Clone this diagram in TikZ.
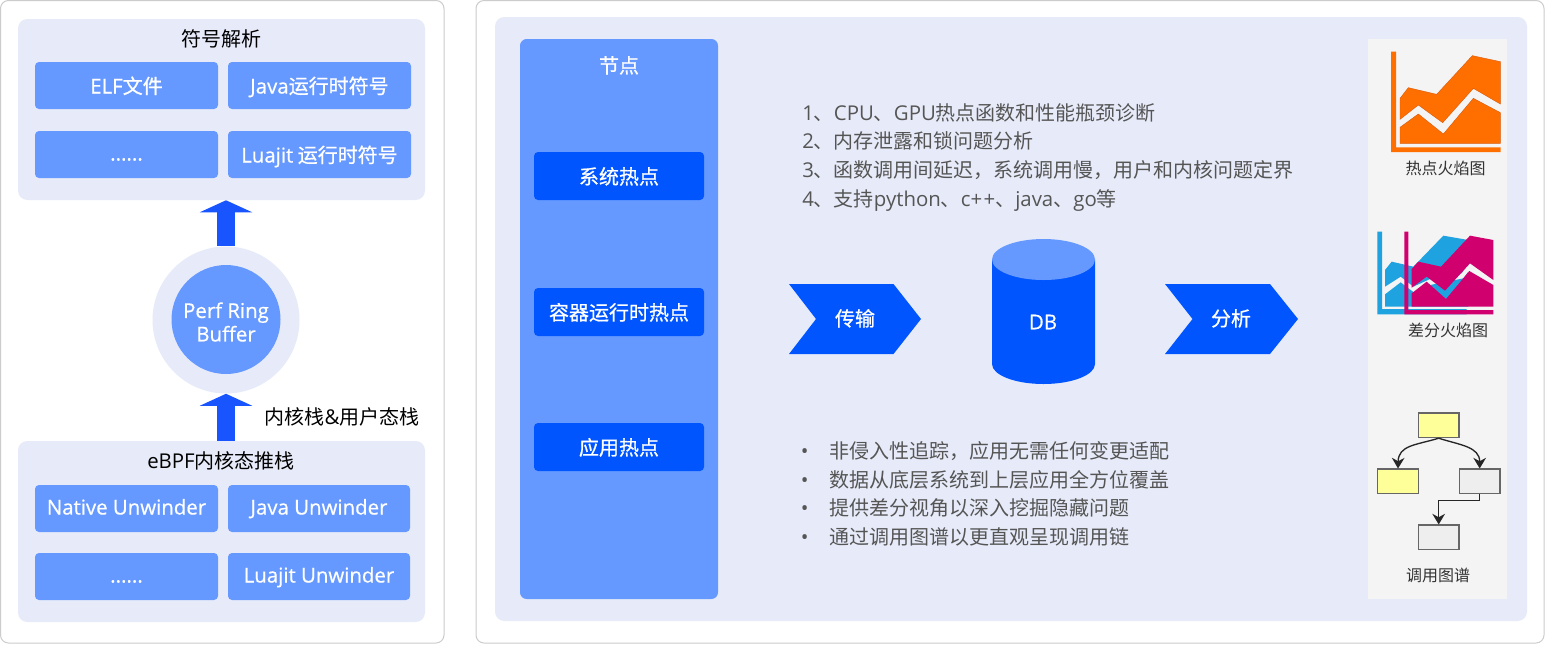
\documentclass[tikz,border=0pt]{standalone}
\usepackage{fontspec}
\setmainfont{Noto Sans CJK SC}
\newfontfamily\latf[Scale=1.02]{Open Sans}
\newfontfamily\medf[FakeBold=0.8]{Noto Sans CJK SC}
\newfontfamily\medlatf[FakeBold=0.6,Scale=1.02]{Open Sans}
\newcommand{\la}[1]{{\latf #1}}
\newcommand{\lm}[1]{{\medlatf #1}}
\newcommand{\upl}[1]{\raisebox{1.5pt}{\lm{#1}}}
\usetikzlibrary{arrows.meta}
\definecolor{pale}{HTML}{E7EBF9}
\definecolor{midblue}{HTML}{6699FF}
\definecolor{deepblue}{HTML}{0055FF}
\definecolor{arrowblue}{HTML}{1855FF}
\definecolor{greytext}{HTML}{555555}
\definecolor{iconbg}{HTML}{F4F4F4}
\definecolor{flameorange}{HTML}{FF6F00}
\definecolor{flameedge}{HTML}{D9590A}
\definecolor{flameblue}{HTML}{1FA2E0}
\definecolor{flamepink}{HTML}{D0006F}
\definecolor{noteyellow}{HTML}{FFFF99}
\definecolor{notegrey}{HTML}{EEEEEE}
\definecolor{noteline}{HTML}{666666}
\tikzset{
  panel/.style={draw=black!20,line width=.75pt,fill=white,rounded corners=6pt},
  groupbox/.style={fill=pale,rounded corners=7pt},
  cell/.style={fill=midblue,text=white,rounded corners=3pt,text height=13pt,text depth=1pt,font=\medf\fontsize{15}{18}\selectfont},
  button/.style={fill=deepblue,text=white,rounded corners=3pt,text height=13pt,text depth=1pt,font=\medf\fontsize{15}{18}\selectfont},
  lbl/.style={inner sep=0pt,text height=13pt,text depth=1pt,font=\fontsize{15}{18}\selectfont},
  greyline/.style={lbl,text=greytext,anchor=west},
  iconlbl/.style={inner sep=0pt,text=black!80,font=\fontsize{12}{14}\selectfont},
  whitelbl/.style={lbl,text=white,font=\medf\fontsize{15}{18}\selectfont},
  bigarrow/.style={arrowblue,line width=13.8pt,-{Triangle[length=9pt,width=39pt]}},
  flowbox/.style={draw=noteline,line width=.8pt,inner sep=0pt,minimum width=30.5pt,minimum height=18.5pt},
  flowline/.style={draw=black!85,line width=1pt,-{Stealth[length=8pt,width=9.5pt]}}
}
\newcommand{\bx}[7][]{%
  \pgfmathsetmacro\bw{(#5-#3)*.75}\pgfmathsetmacro\bh{(#6-#4)*.75}%
  \pgfmathsetmacro\bcx{(#5+#3)/2}\pgfmathsetmacro\bcy{(#6+#4)/2}%
  \node[#1,inner sep=0pt,align=center,minimum width=\bw pt,minimum height=\bh pt] (#2) at (\bcx,\bcy) {#7};}
\begin{document}
\begin{tikzpicture}[x=.75pt,y=-.75pt]
\useasboundingbox (0,0) rectangle (1545,644);
\fill[white] (0,0) rectangle (1545,644);
% left panel
\bx[panel]{leftpanel}{.5}{.5}{444}{643}{}
\bx[groupbox]{symbols}{18}{19}{425}{200}{}
\node[lbl] (symtitle) at (221,38.5) {符号解析};
\bx[cell]{elf}{35}{62}{218}{109}{\lm{ELF}文件}
\bx[cell]{javasym}{228}{62}{411}{109}{\lm{Java}运行时符号}
\bx[cell]{dots1}{35}{131}{218}{178}{\upl{......}}
\bx[cell]{luasym}{228}{131}{411}{178}{\lm{Luajit} 运行时符号}
\bx[groupbox]{ebpf}{18}{441}{425}{622}{}
\node[lbl] (ebpftitle) at (221,460.5) {\la{eBPF}内核态推栈};
\bx[cell]{native}{35}{485}{218}{532}{\upl{Native Unwinder}}
\bx[cell]{javaun}{228}{485}{410}{532}{\upl{Java Unwinder}}
\bx[cell]{dots2}{35}{553}{218}{600}{\upl{......}}
\bx[cell]{luaun}{228}{553}{410}{600}{\upl{Luajit Unwinder}}
\node[circle,fill=pale,inner sep=0pt,minimum size=110.25pt] (ringouter) at (226,320) {};
\node[circle,fill=midblue,inner sep=0pt,minimum size=81.75pt] (ring) at (226,319.5) {};
\node[inner sep=0pt,text=white,align=center,font=\medlatf\fontsize{15}{17.6}\selectfont] (ringtext) at (226,322) {Perf Ring\\Buffer};
\draw[bigarrow] (ringouter.north) -- (ringouter.north |- symbols.south);
\draw[bigarrow] (ringouter.south |- ebpf.north) -- (ringouter.south);
\node[lbl] (stacklbl) at (342,416) {内核栈\la{\&}用户态栈};
% right panel
\bx[panel]{rightpanel}{476}{.5}{1544}{643}{}
\bx[groupbox]{inner}{495}{17}{1527}{621}{}
\bx[fill=midblue,rounded corners=5pt]{nodecol}{520}{39}{718}{599}{}
\node[whitelbl] (nodetitle) at (619,65) {节点};
\bx[button]{sys}{534}{152}{704}{200}{系统热点}
\bx[button]{ctr}{534}{288}{704}{336}{容器运行时热点}
\bx[button]{app}{534}{423}{704}{471}{应用热点}
% upper list
\node[greyline] (l1) at (802,112.5) {\la{1}、\la{CPU}、\la{GPU}热点函数和性能瓶颈诊断};
\node[greyline] (l2) at (802,140.5) {\la{2}、内存泄露和锁问题分析};
\node[greyline] (l3) at (802,169.5) {\la{3}、函数调用间延迟，系统调用慢，用户和内核问题定界};
\node[greyline] (l4) at (802,198.5) {\la{4}、支持\la{python}、\la{c+\kern1pt+}、\la{java}、\la{go}等};
% lower list
\foreach \yy/\tt in {450/非侵入性追踪，应用无需任何变更适配,479/数据从底层系统到上层应用全方位覆盖,507/提供差分视角以深入挖掘隐藏问题,536/通过调用图谱以更直观呈现调用链}{
  \node[greyline] at (800.5,\yy) {\la{•}};
  \node[greyline] at (829,\yy) {\tt};
}
% chevrons
\fill[deepblue] (789,284) -- (893.5,284) -- (921,319) -- (893.5,354) -- (789,354) -- (816,319) -- cycle;
\node[whitelbl] (xfer) at (855,318) {传输};
\fill[deepblue] (1165,284) -- (1270,284) -- (1298,319) -- (1270,354) -- (1165,354) -- (1192.5,319) -- cycle;
\node[whitelbl] (ana) at (1231,318) {分析};
% cylinder
\fill[deepblue] (992,259.5) -- (992,364) arc[start angle=180,end angle=360,x radius=51.5,y radius=-20] -- (1095,259.5) -- cycle;
\fill[midblue] (1043.5,259.5) ellipse[x radius=51.5,y radius=20.5];
\node[inner sep=0pt,text=white,font=\medlatf\fontsize{15}{18}\selectfont] (db) at (1043,322) {DB};
% icon strip
\fill[iconbg] (1368,39) rectangle (1507,599);
\begin{scope}[shift={(1360,30)},x=.25pt,y=-.25pt]
  \fill[flameorange] (93,65) -- (108,65) -- (108,352) -- (422,352) -- (422,366) -- (93,366) -- cycle;
  \draw[flameedge,fill=flameorange,line width=.3pt] (120,205) -- (145,173) -- (230,193) -- (337,77) -- (421,95) -- (421,222) -- (340,175) -- (248,278) -- (175,225) -- (120,268) -- cycle;
  \draw[flameedge,fill=flameorange,line width=.3pt] (120,292) -- (175,252) -- (250,312) -- (340,205) -- (421,248) -- (421,340) -- (120,340) -- cycle;
\end{scope}
\begin{scope}[shift={(1370,225)},x=.25pt,y=-.25pt]
  % blue
  \fill[flameblue] (22,20) -- (36,20) -- (36,252) -- (290,252) -- (290,268) -- (22,268) -- cycle;
  \fill[flameblue] (45,135) -- (65,110) -- (130,125) -- (220,32) -- (295,45) -- (295,115) -- (275,145) -- (180,162) -- (130,185) -- (92,155) -- (45,185) -- cycle;
  \fill[flameblue] (45,208) -- (92,172) -- (135,205) -- (180,180) -- (280,160) -- (295,140) -- (295,245) -- (45,245) -- cycle;
  % magenta
  \fill[flamepink] (103,20) -- (115,20) -- (115,255) -- (370,255) -- (370,268) -- (103,268) -- cycle;
  \fill[flamepink] (125,132) -- (145,110) -- (213,125) -- (300,32) -- (370,45) -- (370,165) -- (300,115) -- (225,197) -- (170,155) -- (125,188) -- cycle;
  \fill[flamepink] (125,205) -- (170,170) -- (228,222) -- (298,138) -- (370,180) -- (370,245) -- (125,245) -- cycle;
\end{scope}
\node[iconlbl] (hotlbl) at (1445.5,168) {热点火焰图};
\node[iconlbl] (difflbl) at (1448,330) {差分火焰图};
\begin{scope}[shift={(1360,390)},x=.25pt,y=-.25pt]
  \node[flowbox,fill=noteyellow] (ftop) at (236,106) {};
  \node[flowbox,fill=noteyellow] (fleft) at (114,274) {};
  \node[flowbox,fill=notegrey] (fright) at (359,274) {};
  \node[flowbox,fill=notegrey] (fbot) at (236,442) {};
  \draw[flowline] (ftop.south) .. controls (170,165) and (115,165) .. (fleft.north);
  \draw[flowline] (ftop.south) .. controls (300,165) and (359,170) .. (fright.north);
  \draw[flowline] (fright.south) -- ++(0,18) -| (fbot.north);
\end{scope}
\node[iconlbl] (calllbl) at (1438,575) {调用图谱};
\end{tikzpicture}
\end{document}
